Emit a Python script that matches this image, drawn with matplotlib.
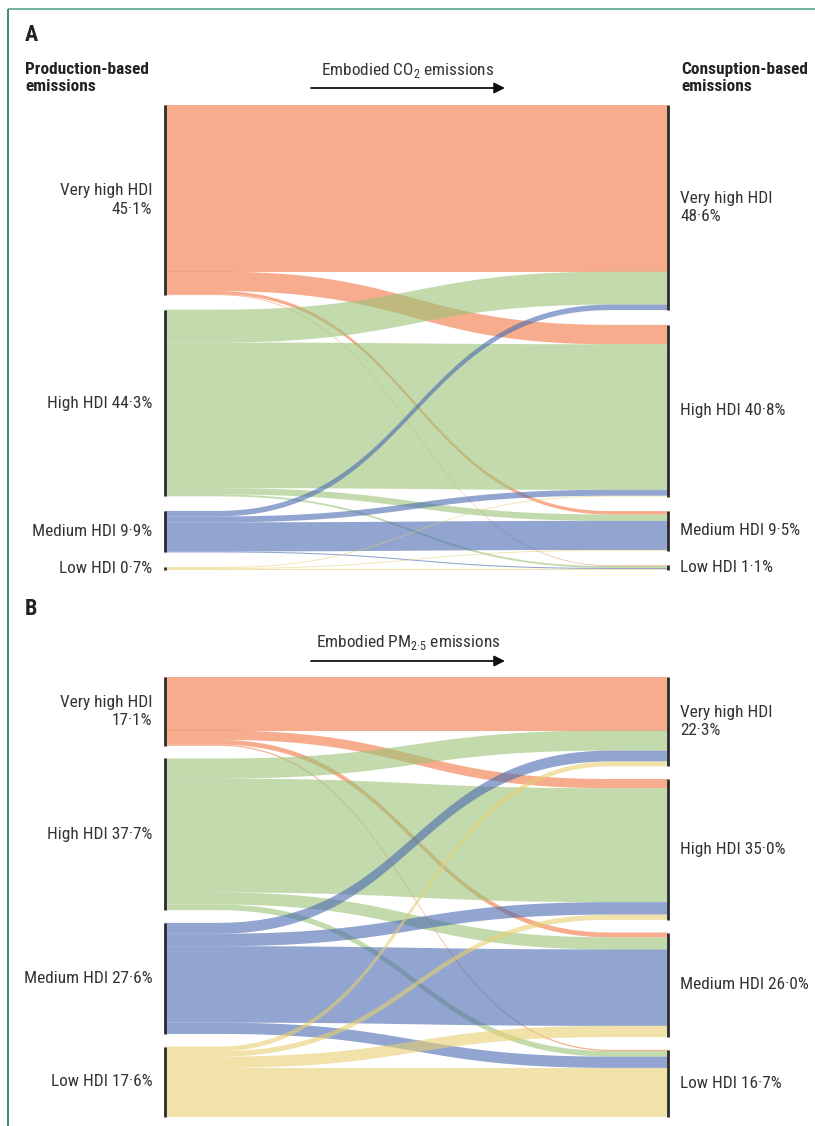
import numpy as np
import matplotlib
matplotlib.use('Agg')
import matplotlib.pyplot as plt
from matplotlib import font_manager
from matplotlib.patches import Polygon, FancyArrowPatch

groups = ['Very high HDI', 'High HDI', 'Medium HDI', 'Low HDI']

# panel A: embodied CO2, rows = production side, cols = consumption side (% of total)
co2_flows = [
    [39.5, 4.6, 0.8, 0.15],
    [7.8, 34.5, 1.5, 0.45],
    [1.3, 1.4, 6.9, 0.25],
    [0.05, 0.2, 0.2, 0.25],
]
co2_prod = ['45·1%', '44·3%', '9·9%', '0·7%']
co2_cons = ['48·6%', '40·8%', '9·5%', '1·1%']

# panel B: embodied PM2.5
pm_flows = [
    [13.3, 2.3, 1.2, 0.3],
    [5.0, 28.3, 3.0, 1.4],
    [2.7, 3.1, 19.0, 2.8],
    [1.2, 1.3, 2.8, 12.2],
]
pm_prod = ['17·1%', '37·7%', '27·6%', '17·6%']
pm_cons = ['22·3%', '35·0%', '26·0%', '16·7%']

# drawn with alpha 0.6 so crossings darken a bit
colors = ['#f27543', '#9bc375', '#4969b1', '#e6cf71']

# the journal uses a condensed face; take one if the machine has it
ttf = font_manager.fontManager.ttflist
narrow = {f.name for f in ttf if 'Narrow' in f.name or 'Condensed' in f.name}
cond = {f.name for f in ttf if f.stretch in ('condensed', 'semi-condensed', 'extra-condensed')}
stretch = 'normal'
font = 'Liberation Sans'
for cand in ['Liberation Sans Narrow', 'Roboto Condensed', 'Open Sans Condensed',
             'Noto Sans Condensed', 'DejaVu Sans Condensed']:
    if cand in narrow:
        font = cand
        break
else:
    if narrow:
        font = sorted(narrow)[0]
    elif cond:
        font = 'DejaVu Sans' if 'DejaVu Sans' in cond else sorted(cond)[0]
        stretch = 'condensed'

plt.rcParams['font.family'] = [font, 'DejaVu Sans']
plt.rcParams['font.stretch'] = stretch
plt.rcParams['mathtext.fontset'] = 'custom'
plt.rcParams['mathtext.rm'] = font + (':stretch=condensed' if stretch != 'normal' else '')
txt_col = '#333333'

W, H = 815, 1126
fig = plt.figure(figsize=(W / 100, H / 100), dpi=100)

# size the type so a label is about as wide as in the original (~105 px)
probe = fig.text(0, 0, 'High HDI 44·3%', fontsize=10)
pw = probe.get_window_extent(fig.canvas.get_renderer()).width
probe.remove()
fs = float(np.clip(10 * 105 / pw, 8.5, 13))

# overlay in pixel coordinates for headings and frame
ov = fig.add_axes([0, 0, 1, 1])
ov.set_xlim(0, W)
ov.set_ylim(H, 0)
ov.axis('off')

X0, X1 = 0.105, 0.885   # where the ribbons start / stop bending
t = np.linspace(0, 1, 120)
bx = 1.5 * t * (1 - t) + t ** 3
by = 3 * t ** 2 - 2 * t ** 3
xs = np.concatenate([[0], X0 + (X1 - X0) * bx, [1]])


def ribbon(y0, y1):
    ys = y0 + (y1 - y0) * by
    return np.concatenate([[y0], ys, [y1]])


def sankey(top_px, bot_px, flows, gap, prod, cons):
    flows = np.array(flows)
    n = len(flows)
    out_tot = flows.sum(axis=1)
    in_tot = flows.sum(axis=0)
    left_top = np.concatenate([[0], np.cumsum(out_tot + gap)[:-1]])
    right_top = np.concatenate([[0], np.cumsum(in_tot + gap)[:-1]])
    total = left_top[-1] + out_tot[-1]

    ax = fig.add_axes([165 / W, 1 - bot_px / H, (668 - 165) / W, (bot_px - top_px) / H])
    ax.set_xlim(0, 1)
    ax.set_ylim(total, 0)
    ax.axis('off')

    src = left_top[:, None] + np.cumsum(flows, axis=1) - flows
    dst = right_top[None, :] + np.cumsum(flows, axis=0) - flows
    for i in range(n):
        for j in range(n):
            w = flows[i, j]
            top = ribbon(src[i, j], dst[i, j])
            bot = ribbon(src[i, j] + w, dst[i, j] + w)
            pts = np.column_stack([np.concatenate([xs, xs[::-1]]),
                                   np.concatenate([top, bot[::-1]])])
            ax.add_patch(Polygon(pts, closed=True, facecolor=colors[i],
                                 alpha=0.6, linewidth=0))

    ax.vlines(np.zeros(n), left_top, left_top + out_tot, color='#2b2b2b', lw=2,
              capstyle='butt', clip_on=False)
    ax.vlines(np.ones(n), right_top, right_top + in_tot, color='#2b2b2b', lw=2,
              capstyle='butt', clip_on=False)

    for k, g in enumerate(groups):
        sep = '\n' if k == 0 else ' '
        ax.annotate(g + sep + prod[k], xy=(0, left_top[k] + out_tot[k] / 2),
                    xytext=(-9, 0), textcoords='offset points', ha='right', va='center',
                    multialignment='right', fontsize=fs, color=txt_col, linespacing=1.3)
        ax.annotate(g + sep + cons[k], xy=(1, right_top[k] + in_tot[k] / 2),
                    xytext=(9, 0), textcoords='offset points', ha='left', va='center',
                    multialignment='left', fontsize=fs, color=txt_col, linespacing=1.3)
    return ax


def heading(y_letter, letter, y_title, title, with_sides):
    ov.text(25, y_letter, letter, fontsize=fs + 3.5, fontweight='bold', color='#222222',
            ha='left', va='center')
    ov.text(408, y_title, title, fontsize=fs, color=txt_col, ha='center', va='center')
    ov.add_patch(FancyArrowPatch((311, y_title + 18), (505, y_title + 18),
                                 arrowstyle='-|>', mutation_scale=16, lw=1.3,
                                 color='#111111', shrinkA=0, shrinkB=0))
    if with_sides:
        ov.text(25, 78, 'Production-based\nemissions', fontsize=fs, fontweight='bold',
                color='#222222', ha='left', va='center', linespacing=1.2)
        ov.text(681, 78, 'Consuption-based\nemissions', fontsize=fs, fontweight='bold',
                color='#222222', ha='left', va='center', linespacing=1.2)


heading(35, 'A', 70, r'Embodied CO$_2$ emissions', True)
heading(609, 'B', 643, r'Embodied PM$_{2·5}$ emissions', False)

sankey(105, 570, co2_flows, 3.45, co2_prod, co2_cons)
sankey(677, 1117, pm_flows, 3.15, pm_prod, pm_cons)

# journal frame line on top and left
ov.plot([8, W], [9, 9], color='#5aa886', lw=1.2, solid_capstyle='butt')
ov.plot([8, 8], [9, H], color='#1f7a4a', lw=1.2, solid_capstyle='butt')

fig.savefig('out.png', dpi=100)
